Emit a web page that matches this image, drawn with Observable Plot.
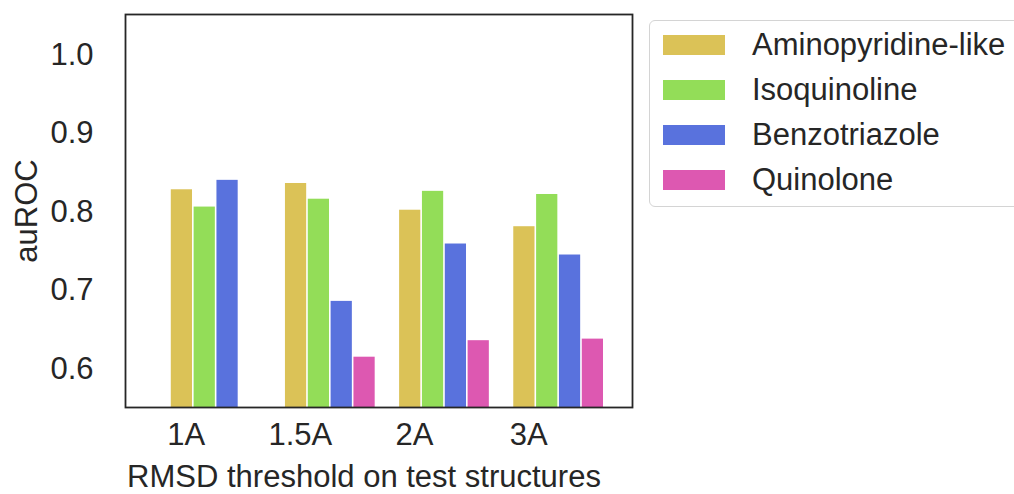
<!DOCTYPE html>
<html>
<head>
<meta charset="utf-8">
<script src="https://cdn.jsdelivr.net/npm/d3@7"></script>
<script src="https://cdn.jsdelivr.net/npm/@observablehq/plot@0.6"></script>
<style>
  html, body { margin: 0; padding: 0; background: #fff; overflow: hidden; }
  #wrap { position: relative; width: 1014px; height: 494px; font-family: "Liberation Sans", Arial, sans-serif; color: #262626; }
  #legend { position: absolute; left: 649px; top: 20px; width: 420px; height: 187px; border: 1.5px solid #d4d4d4; border-radius: 6px; box-sizing: border-box; background: #fff; }
  .sw { position: absolute; left: 13px; width: 62px; height: 20px; }
  .lab { position: absolute; left: 102px; font-size: 31px; white-space: nowrap; line-height: 1; }
</style>
</head>
<body>
<div id="wrap"></div>
<script>
const groups = ["1A", "1.5A", "2A", "3A"];
const series = ["Aminopyridine-like", "Isoquinoline", "Benzotriazole", "Quinolone"];
const aminopyridine = [0.828, 0.836, 0.802, 0.781];
const isoquinoline  = [0.806, 0.816, 0.826, 0.822];
const benzotriazole = [0.840, 0.686, 0.759, 0.745];
const quinolone     = [null, 0.615, 0.636, 0.638];
const colors = ["#dbc257", "#93dd58", "#5972dd", "#dd58b1"];
const yTicks = [0.6, 0.7, 0.8, 0.9, 1.0];

const valuesBySeries = [aminopyridine, isoquinoline, benzotriazole, quinolone];
const rows = [];
valuesBySeries.forEach((vals, si) => {
  vals.forEach((v, gi) => {
    if (v != null) rows.push({gi, si, group: groups[gi], series: series[si], value: v});
  });
});

const chart = Plot.plot({
  width: 1014,
  height: 494,
  marginLeft: 125,
  marginRight: 382,
  marginTop: 14,
  marginBottom: 87,
  style: {fontFamily: "'Liberation Sans', Arial, sans-serif", fontSize: "31px", color: "#262626", background: "transparent", overflow: "visible"},
  x: {domain: [-0.794, 3.647]},
  y: {domain: [0.551, 1.051]},
  color: {domain: series, range: colors},
  marks: [
    Plot.rect(rows, {
      x1: d => d.gi - 0.4 + d.si * 0.2,
      x2: d => d.gi - 0.2 + d.si * 0.2,
      y1: 0,
      y2: "value",
      fill: "series",
      insetLeft: 0.8,
      insetRight: 0.8,
      clip: true
    }),
    Plot.axisY({ticks: yTicks, tickFormat: ".1f", tickSize: 0, tickPadding: 32, label: null}),
    Plot.axisX({ticks: [0, 1, 2, 3], tickFormat: i => groups[i], tickSize: 0, tickPadding: 15, dx: -30, label: null}),
    Plot.text(["auROC"], {frameAnchor: "left", rotate: -90, dx: -98, textAnchor: "middle", lineAnchor: "middle", fontSize: 31, fill: "#262626"}),
    Plot.text(["RMSD threshold on test structures"], {frameAnchor: "bottom", dy: 70, dx: -15, textAnchor: "middle", lineAnchor: "middle", fontSize: 31, fill: "#262626"}),
    Plot.frame({stroke: "#262626", strokeWidth: 1.8})
  ]
});

const wrap = document.getElementById("wrap");
wrap.appendChild(chart);

const legend = document.createElement("div");
legend.id = "legend";
const rowCenters = [24, 69, 114, 159];
series.forEach((s, i) => {
  const sw = document.createElement("div");
  sw.className = "sw";
  sw.style.background = colors[i];
  sw.style.top = (rowCenters[i] - 10) + "px";
  legend.appendChild(sw);
  const lab = document.createElement("div");
  lab.className = "lab";
  lab.textContent = s;
  lab.style.top = (rowCenters[i] - 16) + "px";
  legend.appendChild(lab);
});
wrap.appendChild(legend);
</script>
</body>
</html>
